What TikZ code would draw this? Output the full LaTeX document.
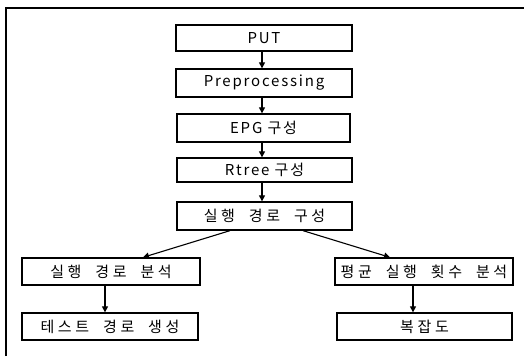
\documentclass[tikz,border=0pt]{standalone}
\usepackage{fontspec}
\setmainfont{Noto Sans CJK KR}[LetterSpace=12]
\newfontfamily\krwide{Noto Sans CJK KR}[LetterSpace=24]
\usetikzlibrary{arrows.meta}
\begin{document}
\begin{tikzpicture}[x=1pt,y=-1pt,
  box/.style={draw,line width=1.3pt,rectangle,inner sep=0pt,font=\fontsize{15}{17}\selectfont},
  kbox/.style={box,font=\fontsize{15}{17}\selectfont\krwide},
  arr/.style={line width=1.1pt,-{Triangle[length=6pt,width=6pt]}}]
\useasboundingbox (0,0) rectangle (524,356);
\coordinate (tl) at (6,8);
\coordinate (tr) at (524,8);
\coordinate (bl) at (6,356);
\draw[line width=1.2pt] (bl) -- (tl) -- (tr);
\node[box,minimum width=176pt,minimum height=26pt] (put) at (264,38) {PUT};
\node[box,minimum width=176pt,minimum height=28pt] (pre) at (264,83) {Preprocessing};
\node[box,minimum width=173pt,minimum height=28pt] (epg) at (263.5,128) {EPG~구성};
\node[box,minimum width=175pt,minimum height=24pt] (rtree) at (264.5,170) {Rtree~구성};
\node[kbox,minimum width=175pt,minimum height=28pt] (run) at (264.5,216) {실행~~경로~~구성};
\node[kbox,minimum width=178pt,minimum height=27pt] (ana) at (111,271.5) {실행~~경로~~분석};
\node[kbox,minimum width=178pt,minimum height=27pt] (avg) at (424,271.5) {평균~~실행~~횟수~~분석};
\node[kbox,minimum width=176pt,minimum height=27pt] (test) at (110,326.5) {테스트~~경로~~생성};
\node[kbox,minimum width=175pt,minimum height=27pt] (cx) at (424.5,326.5) {복잡도};
\draw[arr] ([xshift=-2pt]put.south) -- ([xshift=-2pt]pre.north);
\draw[arr] ([xshift=-2pt]pre.south) -- ([xshift=-1.5pt]epg.north);
\draw[arr] ([xshift=-1.5pt]epg.south) -- ([xshift=-2.5pt]rtree.north);
\draw[arr] ([xshift=-2.5pt]rtree.south) -- ([xshift=-2.5pt]run.north);
\draw[arr] ([xshift=-34.5pt]run.south) -- ([xshift=32pt]ana.north);
\draw[arr] ([xshift=38.5pt]run.south) -- ([xshift=-34pt]avg.north);
\draw[arr] ([xshift=-6pt]ana.south) -- ([xshift=-5pt]test.north);
\draw[arr] ([xshift=-11pt]avg.south) -- ([xshift=-11.5pt]cx.north);
\end{tikzpicture}
\end{document}
